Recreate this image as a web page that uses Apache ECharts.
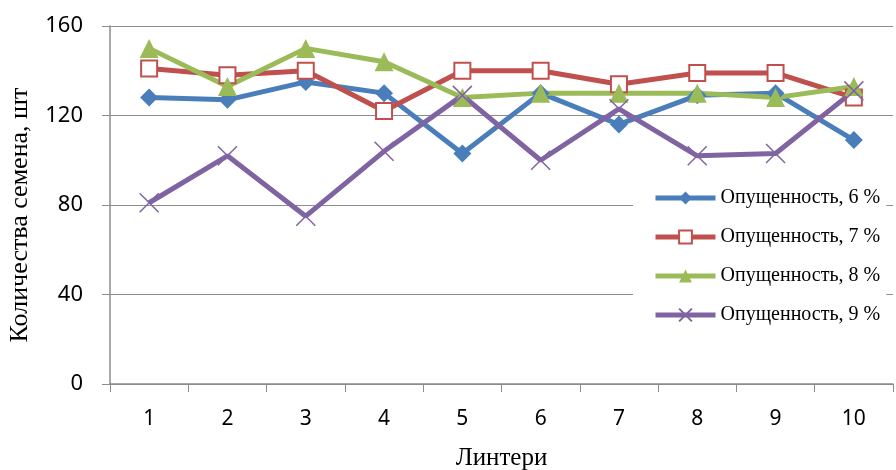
<!DOCTYPE html>
<html>
<head>
<meta charset="utf-8">
<script src="https://cdn.jsdelivr.net/npm/echarts@6/dist/echarts.min.js"></script>
<style>
  html, body { margin: 0; padding: 0; background: #fff; }
  #chart { width: 896px; height: 470px; }
</style>
</head>
<body>
<div id="chart"></div>
<script>
// Linter numbers along the x axis
const categories = ['1', '2', '3', '4', '5', '6', '7', '8', '9', '10'];

// Seed counts per linter for each pubescence level
const pub6 = [128, 127, 135, 130, 103, 130, 116, 129, 130, 109];
const pub7 = [141, 138, 140, 122, 140, 140, 134, 139, 139, 128];
const pub8 = [150, 133, 150, 144, 128, 130, 130, 130, 128, 133];
const pub9 = [81, 102, 75, 104, 129, 100, 123, 102, 103, 131];

const seriesNames = ['Опущенность, 6 %', 'Опущенность, 7 %', 'Опущенность, 8 %', 'Опущенность, 9 %'];
const colors = ['#4a7ebb', '#c0504d', '#9bbb59', '#8064a2'];

const chart = echarts.init(document.getElementById('chart'));

function lineSeries(name, data, color, extra) {
  return Object.assign({
    name: name,
    type: 'line',
    data: data,
    symbolSize: 16,
    lineStyle: { color: color, width: 5 },
    itemStyle: { color: color },
    z: 3
  }, extra);
}

chart.setOption({
  animation: false,
  backgroundColor: '#fff',
  grid: { left: 110, right: 3, top: 26, bottom: 86, outerBoundsMode: 'none', containLabel: false },
  xAxis: {
    type: 'category',
    data: categories,
    boundaryGap: true,
    name: 'Линтери',
    nameLocation: 'middle',
    nameGap: 62,
    nameTextStyle: { fontFamily: 'Liberation Serif', fontSize: 25, color: '#000' },
    axisLine: { lineStyle: { color: '#8c8c8c', width: 1.5 } },
    axisTick: { show: true, length: 8, lineStyle: { color: '#8c8c8c' } },
    axisLabel: { fontFamily: 'Noto Sans', fontSize: 21, color: '#000', margin: 25 }
  },
  yAxis: {
    type: 'value',
    min: 0,
    max: 160,
    interval: 40,
    name: 'Количества семена, шт',
    nameLocation: 'middle',
    nameGap: 77,
    nameTextStyle: { fontFamily: 'Liberation Serif', fontSize: 26, color: '#000', padding: [0, 20, 0, 0] },
    axisLine: { show: true, lineStyle: { color: '#8c8c8c', width: 1.5 } },
    axisTick: { show: true, length: 8, lineStyle: { color: '#8c8c8c' } },
    axisLabel: { fontFamily: 'Noto Sans', fontSize: 22, color: '#000', margin: 27 },
    splitLine: { lineStyle: { color: '#8c8c8c', width: 1.2 } }
  },
  legend: {
    orient: 'vertical',
    left: 633,
    top: 172,
    padding: [16, 6, 16, 20],
    backgroundColor: '#fff',
    itemWidth: 60,
    itemHeight: 16,
    itemGap: 19,
    lineStyle: { width: 5 },
    textStyle: { fontFamily: 'Liberation Serif', fontSize: 20, color: '#000' },
    data: seriesNames
  },
  series: [
    lineSeries(seriesNames[0], pub6, colors[0], { symbol: 'diamond', symbolSize: 18 }),
    lineSeries(seriesNames[1], pub7, colors[1], {
      symbol: 'rect', symbolSize: 16,
      itemStyle: { color: '#fff', borderColor: colors[1], borderWidth: 2 }
    }),
    lineSeries(seriesNames[2], pub8, colors[2], { symbol: 'triangle', symbolSize: 19 }),
    lineSeries(seriesNames[3], pub9, colors[3], {
      symbol: 'path://M0,0L10,10M10,0L0,10', symbolSize: 19,
      itemStyle: { color: 'none', borderColor: colors[3], borderWidth: 1.5 }
    })
  ]
});
</script>
</body>
</html>
